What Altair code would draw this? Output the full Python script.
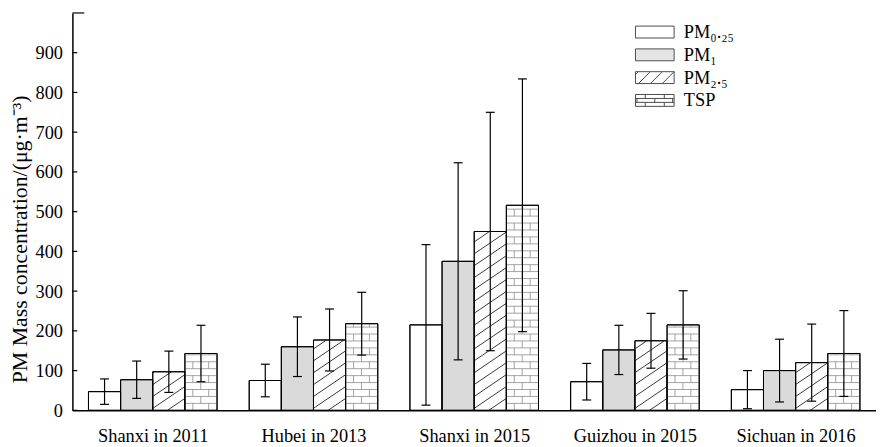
import json
import altair as alt
import pandas as pd

# ---------------- data ----------------
categories = ["Shanxi in 2011", "Hubei in 2013", "Shanxi in 2015", "Guizhou in 2015", "Sichuan in 2016"]
series = ["PM₀.₂₅", "PM₁", "PM₂.₅", "TSP"]

mean_pm025 = [47, 75, 215, 72, 52]
mean_pm1 = [77, 160, 375, 152, 100]
mean_pm25 = [97, 177, 450, 175, 120]
mean_tsp = [143, 218, 516, 215, 143]

sd_pm025 = [32, 41, 202, 46, 48]
sd_pm1 = [47, 75, 248, 62, 79]
sd_pm25 = [52, 78, 300, 69, 97]
sd_tsp = [71, 79, 318, 86, 108]

y_tick_values = [0, 100, 200, 300, 400, 500, 600, 700, 800, 900, 1000]
y_label_values = [0, 100, 200, 300, 400, 500, 600, 700, 800, 900]

means = [mean_pm025, mean_pm1, mean_pm25, mean_tsp]
sds = [sd_pm025, sd_pm1, sd_pm25, sd_tsp]
rows = []
for si, s in enumerate(series):
    for gi, c in enumerate(categories):
        rows.append({"category": c, "gi": gi, "series": s, "si": si,
                     "mean": means[si][gi], "sd": sds[si][gi]})
df = pd.DataFrame(rows)
ticks_df = pd.DataFrame({"v": y_tick_values})

# ---------------- layout constants ----------------
FONT = "Liberation Serif"
W, H = 811, 401
XU = 5 / W        # data units per px (x)
YU = 1000 / H     # data units per px (y)
GAP, RISE = 12, 22      # hatch spacing / rise across a bar (px)
BH, BW = 7, 16          # brick height / width (px)
CAP = 4.5               # half cap width (px)

xscale = alt.Scale(domain=[0, 5], nice=False, zero=False)
yscale = alt.Scale(domain=[0, 1000], nice=False, zero=True)
fill_scale = alt.Scale(domain=series, range=["white", "#dadada", "white", "white"])

box = "M-3.25,-1H3.25V1H-3.25Z"
shape_paths = [
    box,
    box,
    box + "M-2.75,1L-0.75,-1M-0.75,1L1.25,-1M1.25,1L3.25,-1M-3.25,-0.5L-2.75,-1",
    box + "M-3.25,-0.33H3.25M-3.25,0.33H3.25M-1.6,-1V-0.33M1.6,-1V-0.33"
          "M0,-0.33V0.33M-3.0,-0.33V0.33M3.0,-0.33V0.33M-1.6,0.33V1M1.6,0.33V1",
]
shape_scale = alt.Scale(domain=series, range=shape_paths)

legend = alt.Legend(title=None, orient="none", legendX=578.5, legendY=10,
                    labelFontSize=18.5, labelFont=FONT, labelColor="black",
                    labelOffset=20, rowPadding=4, padding=0,
                    symbolSize=144, symbolStrokeColor="black", symbolStrokeWidth=1)

xaxis = alt.Axis(values=[0.5, 1.5, 2.5, 3.5, 4.5],
                 labelExpr=json.dumps(categories) + "[floor(datum.value)]",
                 title=None, ticks=False, grid=False, domainColor="black", domainWidth=1.5,
                 labelFontSize=18.5, labelFont=FONT, labelColor="black", labelPadding=16,
                 labelFlush=False, labelOverlap=False, zindex=1)
yaxis = alt.Axis(values=y_label_values, ticks=False, grid=False,
                 domainColor="black", domainWidth=1.5,
                 labelFontSize=18.5, labelFont=FONT, labelColor="black", labelPadding=10,
                 title="PM Mass concentration/(μg·m⁻³)", titleFont=FONT, titleFontSize=22,
                 titleFontWeight="normal", titleColor="black", titlePadding=4, titleY=228,
                 zindex=1)


def X(field):
    return alt.X(field, scale=xscale, axis=xaxis)


def Y(field):
    return alt.Y(field, scale=yscale, axis=yaxis)


base = alt.Chart(df).transform_calculate(
    x0="datum.gi + 0.1 + 0.2 * datum.si"
).transform_calculate(
    x1="datum.x0 + 0.2"
).transform_calculate(
    xc="datum.x0 + 0.1"
).transform_calculate(
    lo="datum.mean - datum.sd"
).transform_calculate(
    hi="datum.mean + datum.sd"
).transform_calculate(
    hpx=f"datum.mean / {YU}"
).transform_calculate(
    wpx=f"0.2 / {XU}"
)

bars = base.mark_bar(stroke="black", strokeWidth=1).encode(
    x=X("x0:Q"), x2="x1:Q",
    y=Y("mean:Q"), y2=alt.datum(0),
    fill=alt.Fill("series:N", scale=fill_scale, legend=legend),
)

# diagonal hatch for PM2.5
hatch = base.transform_filter("datum.si == 2").transform_calculate(
    k="sequence(0, 45)"
).transform_flatten(["k"]).transform_calculate(
    yl=f"datum.k * {GAP} - {RISE}"
).transform_calculate(
    m=f"{RISE} / datum.wpx"
).transform_calculate(
    xs="max(0, -datum.yl / datum.m)"
).transform_calculate(
    xe="min(datum.wpx, (datum.hpx - datum.yl) / datum.m)"
).transform_filter("datum.xe > datum.xs + 0.3").transform_calculate(
    hx1=f"datum.x0 + datum.xs * {XU}"
).transform_calculate(
    hx2=f"datum.x0 + datum.xe * {XU}"
).transform_calculate(
    hy1=f"(datum.yl + datum.m * datum.xs) * {YU}"
).transform_calculate(
    hy2=f"(datum.yl + datum.m * datum.xe) * {YU}"
).mark_rule(color="#222", strokeWidth=0.9).encode(
    x=X("hx1:Q"), x2="hx2:Q",
    y=Y("hy1:Q"), y2="hy2:Q",
)

# brick pattern for TSP: horizontal mortar lines
brick_h = base.transform_filter("datum.si == 3").transform_calculate(
    r="sequence(1, 45)"
).transform_flatten(["r"]).transform_calculate(
    by=f"datum.r * {BH}"
).transform_filter("datum.by < datum.hpx - 1").transform_calculate(
    byv=f"datum.by * {YU}"
).mark_rule(color="#8c8c8c", strokeWidth=0.8).encode(
    x=X("x0:Q"), x2="x1:Q",
    y=Y("byv:Q"),
)

# brick pattern for TSP: vertical joints
brick_v = base.transform_filter("datum.si == 3").transform_calculate(
    r="sequence(0, 45)"
).transform_flatten(["r"]).transform_calculate(
    c="sequence(0, 3)"
).transform_flatten(["c"]).transform_calculate(
    vx=f"(datum.r % 2 == 0 ? {BW / 2} : 0) + datum.c * {BW}"
).transform_filter(
    f"datum.vx > 0.5 && datum.vx < datum.wpx - 0.5 && datum.r * {BH} < datum.hpx - 1"
).transform_calculate(
    vxd=f"datum.x0 + datum.vx * {XU}"
).transform_calculate(
    vy1=f"datum.r * {BH} * {YU}"
).transform_calculate(
    vy2=f"min((datum.r + 1) * {BH}, datum.hpx) * {YU}"
).mark_rule(color="#8c8c8c", strokeWidth=0.8).encode(
    x=X("vxd:Q"),
    y=Y("vy1:Q"), y2="vy2:Q",
)

outline = base.mark_bar(fill="transparent", stroke="black", strokeWidth=1).encode(
    x=X("x0:Q"), x2="x1:Q",
    y=Y("mean:Q"), y2=alt.datum(0),
)

err = base.mark_rule(color="black", strokeWidth=1.2).encode(
    x=X("xc:Q"),
    y=Y("lo:Q"), y2="hi:Q",
)

caps = base.transform_fold(["lo", "hi"], as_=["end", "yv"]).transform_calculate(
    cx0=f"datum.xc - {CAP * XU}"
).transform_calculate(
    cx1=f"datum.xc + {CAP * XU}"
).mark_rule(color="black", strokeWidth=1.2).encode(
    x=X("cx0:Q"), x2="cx1:Q",
    y=Y("yv:Q"),
)

yticks = alt.Chart(ticks_df).transform_calculate(
    tx0="0"
).transform_calculate(
    tx1=f"datum.v == 1000 ? {12 * XU} : {5 * XU}"
).mark_rule(color="black", strokeWidth=1.2).encode(
    x=X("tx0:Q"), x2="tx1:Q",
    y=Y("v:Q"),
)

# invisible (clipped) points that carry the legend symbols
legend_pts = base.transform_calculate(off="-200").mark_point(
    filled=True, size=144, stroke="black", strokeWidth=1, clip=True
).encode(
    x=X("xc:Q"),
    y=Y("off:Q"),
    shape=alt.Shape("series:N", scale=shape_scale, legend=legend),
    fill=alt.Fill("series:N", scale=fill_scale, legend=legend),
)

chart = alt.layer(
    bars, hatch, brick_h, brick_v, outline, err, caps, yticks, legend_pts
).properties(
    width=W, height=H,
    padding={"left": 0, "top": 2, "right": 0, "bottom": 0},
).configure(
    font=FONT, background="white"
).configure_view(stroke=None)

chart.save("out.html", embed_options={"renderer": "svg", "actions": False})
